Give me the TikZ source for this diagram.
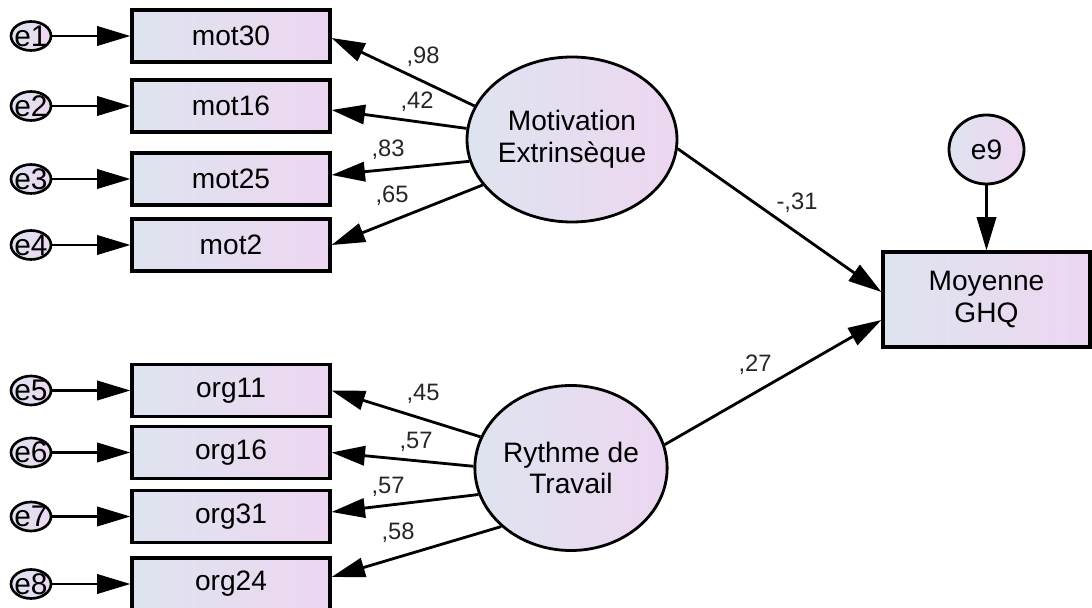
\documentclass[tikz,border=0pt]{standalone}
\usepackage{fontspec}
\setmainfont{Liberation Sans}
\usepackage{tikz}
\usetikzlibrary{arrows.meta,shapes.geometric}
\definecolor{fillleft}{RGB}{222,228,239}
\definecolor{fillright}{RGB}{237,214,241}

\begin{document}
\begin{tikzpicture}[->,>={Triangle[length=19pt,width=11pt]},line width=1.6pt,node distance=4cm,
  obs node/.style={rectangle,draw,line width=1.8pt,left color=fillleft,right color=fillright,
    minimum width=3.96cm,minimum height=1.04cm,font=\fontsize{16}{18}\selectfont},
  lat node/.style={ellipse,draw,line width=1.6pt,left color=fillleft,right color=fillright,
    minimum width=3.8cm,minimum height=3.3cm,inner sep=0pt,align=center,font=\fontsize{16}{18}\selectfont},
  err node/.style={ellipse,draw,line width=1.5pt,left color=fillleft,right color=fillright,
    minimum width=0.8cm,minimum height=0.58cm,inner sep=0pt,
    label={[font=\fontsize{17}{18}\selectfont,inner sep=0pt]center:#1}},
  coef/.style={font=\fontsize{13.5}{15}\selectfont,inner sep=0pt,text=black!85}]

  \path[use as bounding box,fill=white] (0,0) rectangle (21.84,-12.16);

  % indicators
  \node[obs node] (mot30) at (4.62,-0.72) {mot30};
  \node[obs node] (mot16) at (4.62,-2.12) {mot16};
  \node[obs node] (mot25) at (4.62,-3.58) {mot25};
  \node[obs node] (mot2)  at (4.62,-4.90) {mot2};
  \node[obs node] (org11) at (4.62,-7.81) {org11};
  \node[obs node] (org16) at (4.62,-9.05) {org16};
  \node[obs node] (org31) at (4.62,-10.33) {org31};
  \node[obs node] (org24) at (4.62,-11.68) {org24};

  % errors
  \node[err node=e1] (e1) [left of=mot30] {};
  \node[err node=e2] (e2) [left of=mot16] {};
  \node[err node=e3] (e3) [left of=mot25] {};
  \node[err node=e4] (e4) [left of=mot2] {};
  \node[err node=e5] (e5) [left of=org11] {};
  \node[err node=e6] (e6) [left of=org16] {};
  \node[err node=e7] (e7) [left of=org31] {};
  \node[err node=e8] (e8) [left of=org24] {};

  % latent variables
  \node[lat node] (ME) at (11.44,-2.79) {Motivation\\Extrinsèque};
  \node[lat node] (RT) at (11.42,-9.36) {Rythme de\\Travail};

  % outcome
  \node[obs node,minimum width=4.14cm,minimum height=1.9cm,align=center] (GHQ) at (19.73,-5.99) {Moyenne\\GHQ};
  \node[ellipse,draw,line width=1.6pt,left color=fillleft,right color=fillright,
    minimum width=1.5cm,minimum height=1.38cm,font=\fontsize{16}{18}\selectfont] (e9) [above of=GHQ,node distance=3cm] {e9};

  \path
    (e1) edge (mot30)
    (e2) edge (mot16)
    (e3) edge (mot25)
    (e4) edge (mot2)
    (e5) edge (org11)
    (e6) edge (org16)
    (e7) edge (org31)
    (e8) edge (org24)
    (e9) edge (GHQ)
    (ME.161) edge ([yshift=-0.04cm]mot30.east)
    (ME.174) edge ([yshift=-0.08cm]mot16.east)
    (ME.192) edge ([yshift=0.08cm]mot25.east)
    (ME.207) edge (mot2.east)
    (RT.161) edge (org11.east)
    (RT.179) edge (org16.east)
    (RT.196) edge ([yshift=0.09cm]org31.east)
    (RT.220) edge ([yshift=0.14cm]org24.east)
    (ME.355) edge ([yshift=0.15cm]GHQ.west)
    (RT.14)  edge ([yshift=-0.41cm]GHQ.west);

  % coefficients
  \node[coef] (c1) at (8.46,-1.14) {,98};
  \node[coef] (c2) at (8.34,-2.04) {,42};
  \node[coef] (c3) at (7.76,-3.00) {,83};
  \node[coef] (c4) at (7.84,-3.92) {,65};
  \node[coef] (c5) at (8.46,-7.88) {,45};
  \node[coef] (c6) at (8.32,-8.84) {,57};
  \node[coef] (c7) at (7.76,-9.74) {,57};
  \node[coef] (c8) at (7.96,-10.66) {,58};
  \node[coef] (c9) at (15.94,-4.06) {-,31};
  \node[coef] (c10) at (15.10,-7.30) {,27};
\end{tikzpicture}
\end{document}
